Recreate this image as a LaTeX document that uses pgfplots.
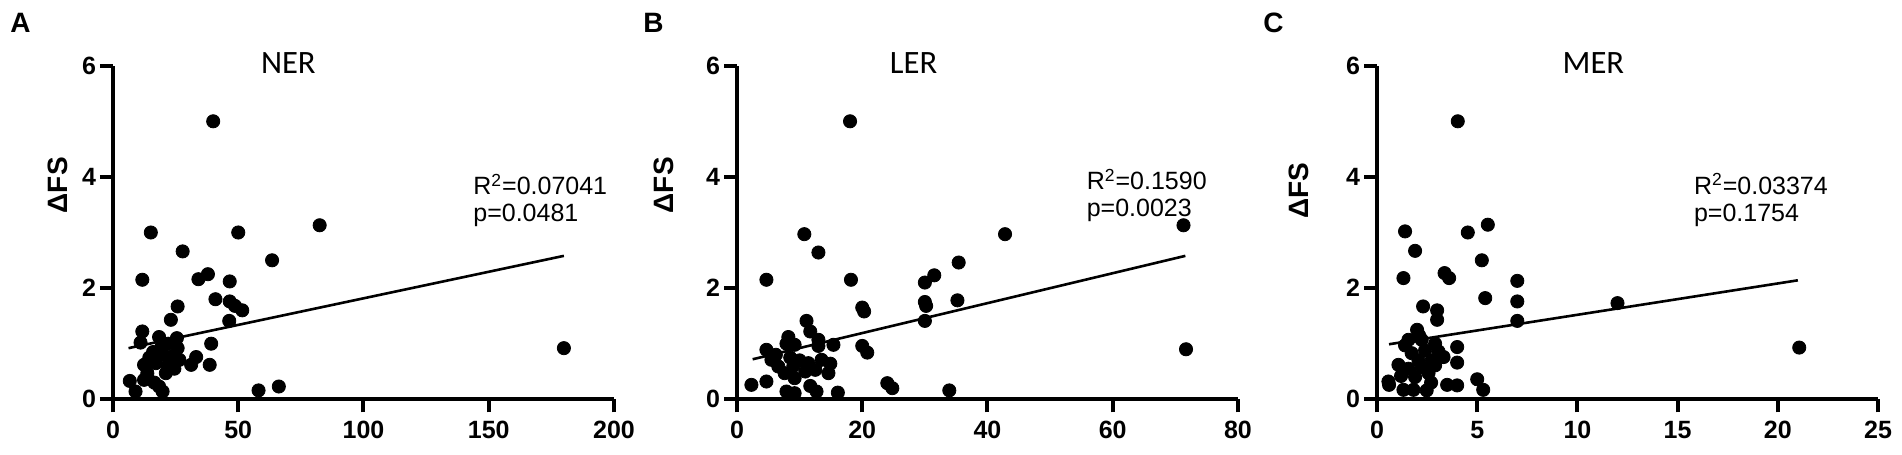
\documentclass[border=0pt]{standalone}
\usepackage{fontspec}
\setmainfont{Liberation Sans}
\newfontfamily\carlito{Carlito}
\usepackage{pgfplots}
\pgfplotsset{compat=1.18}
\pgfplotsset{
  panel/.style={
    scale only axis, width=250.5pt, height=166.8pt,
    axis lines=left, axis line style={-, line width=2pt},
    ymin=0, ymax=6, ytick={0,2,4,6},
    tick align=outside, major tick length=6.5pt,
    tick style={black, line width=2pt},
    tick label style={font=\fontsize{12.5}{12.5}\selectfont\bfseries},
    /pgf/number format/assume math mode=true,
    xticklabel style={yshift=-1pt},
    yticklabel style={xshift=1.5pt},
    clip=false, anchor=south west,
  },
  dots/.style={only marks, mark=*, mark size=3.3pt, black, mark options={fill=black, draw=black}},
  fitline/.style={black, line width=1.3pt, no marks},
}
\newcommand{\ttl}{\carlito\fontsize{16.3}{16.3}\selectfont}
\newcommand{\stat}{\fontsize{12.5}{13.5}\selectfont}
\newcommand{\lbl}{\fontsize{14}{14}\selectfont\bfseries}
\begin{document}
\begin{tikzpicture}
\useasboundingbox (0,0) rectangle (951pt,227.5pt);
% Panel A
\begin{axis}[panel, at={(56.5pt,27.85pt)}, xmin=0, xmax=200, xtick={0,50,100,150,200}]
\addplot[dots] coordinates {
(15.1,3.0)(50,3.0)(27.8,2.66)(63.5,2.5)(82.5,3.13)(40.0,5.0)(11.7,2.15)(34.1,2.16)
(37.9,2.25)(46.6,2.12)(40.9,1.80)(46.6,1.76)(48.7,1.68)(51.6,1.60)(25.8,1.67)(23.1,1.43)
(46.4,1.41)(11.7,1.22)(11,1.02)(18.4,1.12)(25.5,1.10)(39.2,1.0)(19.1,0.92)(25.8,0.92)
(17.7,0.77)(23.5,0.77)(26.5,0.71)(33.2,0.76)(31.2,0.62)(38.6,0.62)(12.4,0.62)(17.1,0.65)
(13.7,0.47)(21.8,0.59)(21.1,0.47)(6.7,0.33)(12.4,0.35)(9.0,0.14)(18.4,0.23)(19.8,0.14)
(58.1,0.16)(66.2,0.23)(180,0.92)(16,0.85)(22,1.0)(14.5,0.75)(20,0.8)(24.5,0.55)(16.5,0.3)
};
\addplot[fitline] coordinates {(6.2,0.92)(180,2.58)};
\node[font=\ttl] at (axis cs:70,6.04) {NER};
\node[font=\stat, anchor=north west, inner sep=0pt, align=left] at (axis cs:143.7,4.06) {R\textsuperscript{2}=0.07041\\p=0.0481};
\path (axis cs:0,3.85) ++(-27.5pt,0) node[font=\lbl, rotate=90] {ΔFS};
\end{axis}
% Panel B
\begin{axis}[panel, at={(368.5pt,27.85pt)}, xmin=0, xmax=80, xtick={0,20,40,60,80}]
\addplot[dots] coordinates {
(10.75,2.97)(13.0,2.64)(4.7,2.15)(18.2,2.15)(20.0,1.65)(20.3,1.58)(11.1,1.41)(11.7,1.22)
(8.2,1.12)(7.9,1.0)(9.2,0.98)(13.0,1.07)(13.0,0.96)(15.4,0.98)(4.7,0.89)(20.0,0.96)
(20.8,0.84)(5.5,0.71)(6.6,0.59)(9.0,0.6)(11.4,0.65)(13.5,0.71)(14.9,0.64)(10.9,0.5)
(12.5,0.53)(7.6,0.47)(14.6,0.47)(4.7,0.32)(2.3,0.26)(9.2,0.38)(7.9,0.14)(9.2,0.11)
(11.7,0.24)(12.7,0.14)(16.1,0.12)(24.0,0.29)(24.8,0.2)(18.05,5.0)(42.8,2.97)(71.3,3.13)
(71.7,0.9)(33.9,0.16)(30.0,2.10)(31.5,2.23)(35.4,2.46)(30.0,1.75)(30.2,1.68)(35.2,1.78)
(30.0,1.41)(6.2,0.8)(8.5,0.75)(10,0.7)
};
\addplot[fitline] coordinates {(2.5,0.72)(71.6,2.58)};
\node[font=\ttl] at (axis cs:28.2,6.04) {LER};
\node[font=\stat, anchor=north west, inner sep=0pt, align=left, fill=white] at (axis cs:55.8,4.15) {R\textsuperscript{2}=0.1590\\p=0.0023};
\path (axis cs:0,3.85) ++(-36.5pt,0) node[font=\lbl, rotate=90] {ΔFS};
\end{axis}
% Panel C
\begin{axis}[panel, at={(688.5pt,27.85pt)}, xmin=0, xmax=25, xtick={0,5,10,15,20,25}]
\addplot[dots] coordinates {
(1.4,3.02)(1.9,2.67)(4.53,3.0)(5.53,3.14)(5.23,2.5)(1.32,2.18)(3.37,2.27)(3.6,2.18)
(7.0,2.13)(5.4,1.82)(7.0,1.76)(7.0,1.41)(2.3,1.67)(3.0,1.6)(3.0,1.43)(2.0,1.25)
(4.0,0.94)(4.0,0.66)(0.57,0.32)(1.07,0.62)(1.32,0.17)(1.82,0.17)(2.48,0.16)(3.5,0.26)
(4.0,0.25)(5.0,0.36)(5.3,0.17)(4.03,5.0)(12.0,1.73)(21.07,0.93)(1.57,1.07)(2.23,1.07)
(2.9,1.0)(1.73,0.83)(2.4,0.88)(3.07,0.86)(2.07,0.7)(2.73,0.7)(3.32,0.76)(1.57,0.55)
(2.23,0.58)(2.9,0.61)(1.9,0.4)(2.57,0.47)(1.4,0.97)(2.1,1.15)(0.6,0.26)(1.2,0.42)(2.7,0.3)
};
\addplot[fitline] coordinates {(0.6,0.99)(21,2.14)};
\node[font=\ttl] at (axis cs:10.8,6.04) {MER};
\node[font=\stat, anchor=north west, inner sep=0pt, align=left] at (axis cs:15.8,4.07) {R\textsuperscript{2}=0.03374\\p=0.1754};
\path (axis cs:0,3.75) ++(-39pt,0) node[font=\lbl, rotate=90] {ΔFS};
\end{axis}
\node[font=\lbl, anchor=north west, inner sep=0pt] at (5pt,221pt) {A};
\node[font=\lbl, anchor=north west, inner sep=0pt] at (321.5pt,221pt) {B};
\node[font=\lbl, anchor=north west, inner sep=0pt] at (631.5pt,221pt) {C};
\end{tikzpicture}
\end{document}
